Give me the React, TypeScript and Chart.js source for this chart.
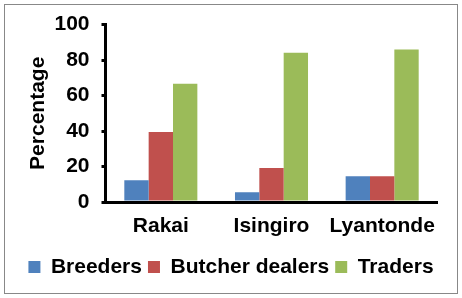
import React, { useEffect, useRef } from "react";
import { Chart, registerables } from "chart.js";

Chart.register(...registerables);

const categories = ["Rakai", "Isingiro", "Lyantonde"];
const breeders = [12.3, 5.5, 14.5];
const butcherDealers = [39.4, 19.1, 14.5];
const traders = [66.6, 84.2, 85.9];
const seriesNames = ["Breeders", "Butcher dealers", "Traders"];
const yTitle = "Percentage";

const FONT = "'Liberation Sans', Arial, sans-serif";

export default function App() {
  const ref = useRef<HTMLCanvasElement | null>(null);
  useEffect(() => {
    if (!ref.current) return;
    const font = { family: FONT, size: 21, weight: "bold" as const };
    const chart = new Chart(ref.current, {
      type: "bar",
      data: {
        labels: categories,
        datasets: [
          { label: seriesNames[0], data: breeders, backgroundColor: "#4F81BD" },
          { label: seriesNames[1], data: butcherDealers, backgroundColor: "#C0504D" },
          { label: seriesNames[2], data: traders, backgroundColor: "#9BBB59" },
        ],
      },
      options: {
        animation: false,
        responsive: false,
        devicePixelRatio: 1,
        layout: { padding: { left: 0, right: 0, top: 24.5, bottom: 10.5 } },
        datasets: { bar: { categoryPercentage: 0.66, barPercentage: 1 } },
        plugins: {
          tooltip: { enabled: false },
          legend: {
            position: "bottom",
            labels: {
              font,
              color: "#000",
              boxWidth: 12,
              boxHeight: 12,
              padding: 6,
            },
          },
        },
        scales: {
          x: {
            grid: { display: false, drawTicks: false },
            border: { display: true, color: "#000", width: 3 },
            ticks: { font, color: "#000", padding: 12, maxRotation: 0 },
            afterFit: (s: any) => {
              s.height = 48.5;
            },
          },
          y: {
            min: 0,
            max: 100,
            ticks: { stepSize: 20, font, color: "#000", padding: 12 },
            grid: {
              drawOnChartArea: false,
              drawTicks: true,
              tickLength: 4,
              lineWidth: 3,
              color: "#000",
            },
            border: { display: true, color: "#000", width: 3 },
            title: {
              display: true,
              text: yTitle,
              font,
              color: "#000",
              padding: { top: 26, bottom: 0 },
            },
            afterFit: (s: any) => {
              s.width = 105.5;
            },
          },
          yRight: {
            type: "linear",
            position: "right",
            display: true,
            grid: { display: false, drawTicks: false },
            border: { display: false },
            ticks: { display: false },
            afterFit: (s: any) => {
              s.width = 24.5;
            },
          },
        },
      } as any,
    });
    return () => chart.destroy();
  }, []);

  return (
    <div style={{ position: "fixed", left: 0, top: 0, width: 462, height: 298, background: "#fff" }}>
      <canvas ref={ref} width={462} height={298} style={{ display: "block" }} />
      <div
        style={{
          position: "absolute",
          left: 4,
          top: 4,
          width: 452,
          height: 288,
          border: "1px solid #888",
          pointerEvents: "none",
        }}
      />
    </div>
  );
}
